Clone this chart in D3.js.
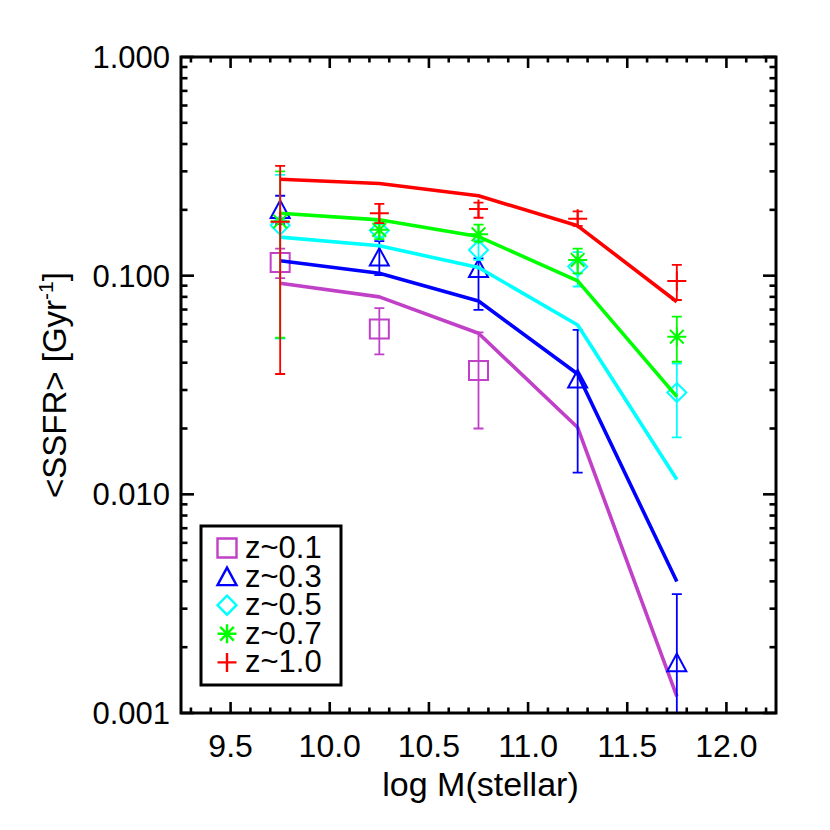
<!DOCTYPE html>
<html>
<head>
<meta charset="utf-8">
<script src="https://cdn.jsdelivr.net/npm/d3@7"></script>
<style>
  html, body { margin: 0; padding: 0; background: #fff; }
  svg { display: block; }
  text { font-family: "Liberation Sans", Arial, Helvetica, sans-serif; fill: #000; }
</style>
</head>
<body>
<svg id="chart" width="830" height="830"></svg>
<script>
// ---------------- data ----------------
const massBins = [9.75, 10.25, 10.75, 11.25, 11.75];
const seriesLabels = ["z~0.1", "z~0.3", "z~0.5", "z~0.7", "z~1.0"];
const seriesColors = ["#c040c8", "#0000ff", "#00ffff", "#00ff00", "#ff0000"];
const seriesSymbols = ["square", "triangle", "diamond", "asterisk", "plus"];

// model curves (solid lines)
const modelZ01 = [0.0923, 0.080, 0.0545, 0.0202, 0.00119];
const modelZ03 = [0.117, 0.1025, 0.0766, 0.0355, 0.00399];
const modelZ05 = [0.150, 0.137, 0.109, 0.0595, 0.0117];
const modelZ07 = [0.193, 0.180, 0.151, 0.0946, 0.028];
const modelZ10 = [0.276, 0.264, 0.232, 0.169, 0.076];

// observed points with error bars
const obsZ01 = [0.115, 0.057, 0.0368];
const obsZ01Lo = [0.0974, 0.0437, 0.020];
const obsZ01Hi = [0.133, 0.071, 0.055];

const obsZ03 = [0.201, 0.1217, 0.108, 0.0337, 0.0017];
const obsZ03Lo = [0.172, 0.1005, 0.0697, 0.01256, 0.0007];
const obsZ03Hi = [0.232, 0.144, 0.120, 0.0565, 0.0035];

const obsZ05 = [0.170, 0.161, 0.131, 0.110, 0.0292];
const obsZ05Lo = [0.0516, 0.150, 0.118, 0.0892, 0.0182];
const obsZ05Hi = [0.289, 0.172, 0.145, 0.128, 0.0396];

const obsZ07 = [0.177, 0.162, 0.1546, 0.118, 0.0526];
const obsZ07Lo = [0.052, 0.147, 0.143, 0.1025, 0.0404];
const obsZ07Hi = [0.300, 0.175, 0.171, 0.133, 0.0649];

const obsZ10 = [0.1766, 0.193, 0.202, 0.182, 0.0946];
const obsZ10Lo = [0.0355, 0.174, 0.184, 0.169, 0.0774];
const obsZ10Hi = [0.318, 0.213, 0.216, 0.197, 0.112];

const xTickValues = [9.5, 10.0, 10.5, 11.0, 11.5, 12.0];
const xTickLabels = ["9.5", "10.0", "10.5", "11.0", "11.5", "12.0"];
const yTickValues = [1, 0.1, 0.01, 0.001];
const yTickLabels = ["1.000", "0.100", "0.010", "0.001"];
const xTitle = "log M(stellar)";

// ---------------- assemble ----------------
const models = [modelZ01, modelZ03, modelZ05, modelZ07, modelZ10];
const obs = [
  [obsZ01, obsZ01Lo, obsZ01Hi],
  [obsZ03, obsZ03Lo, obsZ03Hi],
  [obsZ05, obsZ05Lo, obsZ05Hi],
  [obsZ07, obsZ07Lo, obsZ07Hi],
  [obsZ10, obsZ10Lo, obsZ10Hi]
];

const L = 181, R = 776, T = 57, B = 713;
const svg = d3.select("#chart");
const x = d3.scaleLinear().domain([9.25, 12.25]).range([L, R]);
const y = d3.scaleLog().domain([0.001, 1]).range([B, T]);

svg.append("defs").append("clipPath").attr("id", "plotclip")
  .append("rect").attr("x", L).attr("y", T).attr("width", R - L).attr("height", B - T);

// symbol path generator (IDL-like psyms)
function symPath(type, s) {
  switch (type) {
    case "square": return `M${-s},${-s}H${s}V${s}H${-s}Z`;
    case "triangle": return `M${-s},${s*0.9}L0,${-s*0.95}L${s},${s*0.9}Z`;
    case "diamond": return `M0,${-s}L${s},0L0,${s}L${-s},0Z`;
    case "asterisk": {
      const d = s * 0.72;
      return `M${-s},0H${s}M0,${-s}V${s}M${-d},${-d}L${d},${d}M${-d},${d}L${d},${-d}`;
    }
    case "plus": return `M${-s},0H${s}M0,${-s}V${s}`;
  }
}

const plot = svg.append("g").attr("clip-path", "url(#plotclip)");
const line = d3.line().x((d, i) => x(massBins[i])).y(d => y(d));

seriesLabels.forEach((lab, si) => {
  const col = seriesColors[si];
  const g = plot.append("g");
  const [vals, lo, hi] = obs[si];
  const pts = vals.map((v, i) => ({ x: massBins[i], v, lo: lo[i], hi: hi[i] }));
  // error bars
  g.selectAll("path.err").data(pts).join("path")
    .attr("class", "err")
    .attr("d", d => {
      const px = x(d.x), y1 = y(d.hi), y2 = y(d.lo), c = 5;
      return `M${px},${y1}V${y2}M${px - c},${y1}H${px + c}M${px - c},${y2}H${px + c}`;
    })
    .attr("fill", "none").attr("stroke", col).attr("stroke-width", 1.8);
  // symbols
  g.selectAll("path.sym").data(pts).join("path")
    .attr("class", "sym")
    .attr("transform", d => `translate(${x(d.x)},${y(d.v)})`)
    .attr("d", symPath(seriesSymbols[si], 9.5))
    .attr("fill", "none").attr("stroke", col).attr("stroke-width", 2);
  // model line
  g.append("path").datum(models[si])
    .attr("d", line)
    .attr("fill", "none").attr("stroke", col).attr("stroke-width", 3.6)
    .attr("stroke-linejoin", "round");
});

// ---------------- axes ----------------
const axisG = svg.append("g");
const tickW = 2.6;
// x ticks (bottom & top, inward)
const xMinor = d3.range(93, 123).map(v => v / 10);
xMinor.forEach(v => {
  const isMajor = Math.abs(v * 2 - Math.round(v * 2)) < 1e-6;
  const len = isMajor ? 11 : 5.5;
  axisG.append("line").attr("x1", x(v)).attr("x2", x(v)).attr("y1", B).attr("y2", B - len)
    .attr("stroke", "#000").attr("stroke-width", tickW);
  axisG.append("line").attr("x1", x(v)).attr("x2", x(v)).attr("y1", T).attr("y2", T + len)
    .attr("stroke", "#000").attr("stroke-width", tickW);
});
// y ticks
const yAll = [];
[0.001, 0.01, 0.1].forEach(dec => { for (let k = 1; k <= 9; k++) yAll.push(dec * k); });
yAll.push(1);
yAll.forEach(v => {
  const isMajor = Math.abs(Math.log10(v) - Math.round(Math.log10(v))) < 1e-6;
  const len = isMajor ? 13 : 6.5;
  axisG.append("line").attr("x1", L).attr("x2", L + len).attr("y1", y(v)).attr("y2", y(v))
    .attr("stroke", "#000").attr("stroke-width", tickW);
  axisG.append("line").attr("x1", R).attr("x2", R - len).attr("y1", y(v)).attr("y2", y(v))
    .attr("stroke", "#000").attr("stroke-width", tickW);
});
// frame
axisG.append("rect").attr("x", L).attr("y", T).attr("width", R - L).attr("height", B - T)
  .attr("fill", "none").attr("stroke", "#000").attr("stroke-width", 3);

// tick labels
xTickValues.forEach((v, i) => {
  svg.append("text").attr("x", x(v)).attr("y", 757).attr("text-anchor", "middle")
    .attr("font-size", 32).text(xTickLabels[i]);
});
yTickValues.forEach((v, i) => {
  svg.append("text").attr("x", 170).attr("y", y(v) + 11).attr("text-anchor", "end")
    .attr("font-size", 31).text(yTickLabels[i]);
});

// axis titles
svg.append("text").attr("x", (L + R) / 2 + 2).attr("y", 796).attr("text-anchor", "middle")
  .attr("font-size", 34).text(xTitle);

const yt = svg.append("text").attr("transform", "translate(66,385) rotate(-90)")
  .attr("text-anchor", "middle").attr("font-size", 33);
yt.append("tspan").text("<SSFR> [Gyr");
yt.append("tspan").attr("dy", -13).attr("font-size", 21).text("-1");
yt.append("tspan").attr("dy", 13).text("]");

// ---------------- legend ----------------
const lg = svg.append("g");
const rowH = 28.6, row0 = 548;
lg.append("rect").attr("x", 201).attr("y", 526).attr("width", 140).attr("height", 159)
  .attr("fill", "#fff").attr("stroke", "#000").attr("stroke-width", 3);
seriesLabels.forEach((lab, i) => {
  lg.append("path").attr("transform", `translate(227,${row0 + i * rowH})`)
    .attr("d", symPath(seriesSymbols[i], 9.5))
    .attr("fill", "none").attr("stroke", seriesColors[i]).attr("stroke-width", 2.4);
});
// one multi-line text block for the legend labels
const lgText = lg.append("text").attr("font-size", 31);
seriesLabels.forEach((lab, i) => {
  lgText.append("tspan").attr("x", 245).attr("y", row0 + 10 + i * rowH).text(lab);
});
</script>
</body>
</html>
